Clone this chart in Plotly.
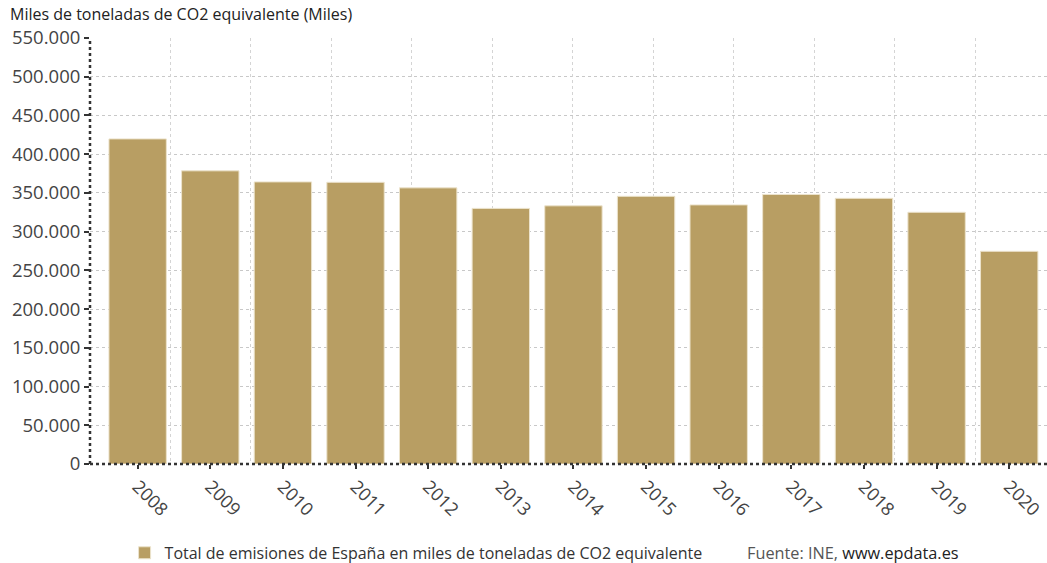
import plotly.graph_objects as go

years = ["2008", "2009", "2010", "2011", "2012", "2013", "2014",
         "2015", "2016", "2017", "2018", "2019", "2020"]
emissions = [419700, 378500, 364200, 363700, 356500, 330000, 333300,
             345600, 334500, 348000, 343000, 325000, 274600]
y_ticks = [0, 50000, 100000, 150000, 200000, 250000, 300000, 350000,
           400000, 450000, 500000, 550000]

series_name = "Total de emisiones de España en miles de toneladas de CO2 equivalente"
bar_color = "#b89e63"
font_family = "Open Sans, Noto Sans, sans-serif"

fig = go.Figure()
fig.add_trace(go.Bar(
    x=years, y=emissions, name=series_name,
    marker=dict(color=bar_color, line=dict(color="#ece3cc", width=1)),
    width=0.79, showlegend=True,
))
# helper trace to supply independent vertical grid lines
fig.add_trace(go.Scatter(x=[0], y=[0], xaxis="x2", mode="markers",
                         marker=dict(opacity=0), showlegend=False,
                         hoverinfo="skip"))

fig.update_layout(
    width=1047, height=563,
    margin=dict(l=90, r=0, t=38, b=99),
    paper_bgcolor="white", plot_bgcolor="white",
    separators=",.",
    font=dict(family=font_family, color="#444"),
    bargap=0.21,
    xaxis=dict(
        type="category", range=[-0.656, 12.52],
        tickangle=45, tickfont=dict(size=18, color="#444"),
        ticks="outside", ticklen=4, tickcolor="#333", tickwidth=2,
        showgrid=False, showline=False, zeroline=False,
    ),
    xaxis2=dict(
        overlaying="x", range=[0, 11.89], dtick=1, tick0=0,
        showgrid=True, gridcolor="#d4d4d4", griddash="dot", gridwidth=1,
        showticklabels=False, showline=False, zeroline=False,
        side="bottom",
    ),
    yaxis=dict(
        range=[0, 550000], tickvals=y_ticks, tickformat=",d",
        tickfont=dict(size=18.5, color="#444"),
        ticks="outside", ticklen=5, tickcolor="#333", tickwidth=2,
        showgrid=True, gridcolor="#c8c8c8", griddash="dot", gridwidth=1,
        showline=False, zeroline=False,
    ),
    legend=dict(
        orientation="h", xref="container", yref="container",
        x=0.119, y=0.018, xanchor="left", yanchor="middle",
        font=dict(size=16, color="#333"),
        itemwidth=30,
    ),
    shapes=[
        dict(type="line", xref="paper", yref="paper", x0=0, x1=0, y0=0, y1=1,
             line=dict(color="#333", width=2.5, dash="dot"), layer="above"),
        dict(type="line", xref="paper", yref="paper", x0=0, x1=1, y0=0, y1=0,
             line=dict(color="#333", width=2.5, dash="dot"), layer="above"),
    ],
    annotations=[
        dict(text="Miles de toneladas de CO2 equivalente (Miles)",
             xref="paper", yref="paper", x=-0.0857, y=1.056,
             xanchor="left", yanchor="middle", showarrow=False,
             font=dict(size=16, color="#222")),
        dict(text="<span style='color:#555'>Fuente: INE, </span>"
                  "<span style='color:#222'>www.epdata.es</span>",
             xref="paper", yref="paper", x=0.684, y=-0.209,
             xanchor="left", yanchor="middle", showarrow=False,
             font=dict(size=16.3)),
    ],
)

fig.write_html("out.html")
